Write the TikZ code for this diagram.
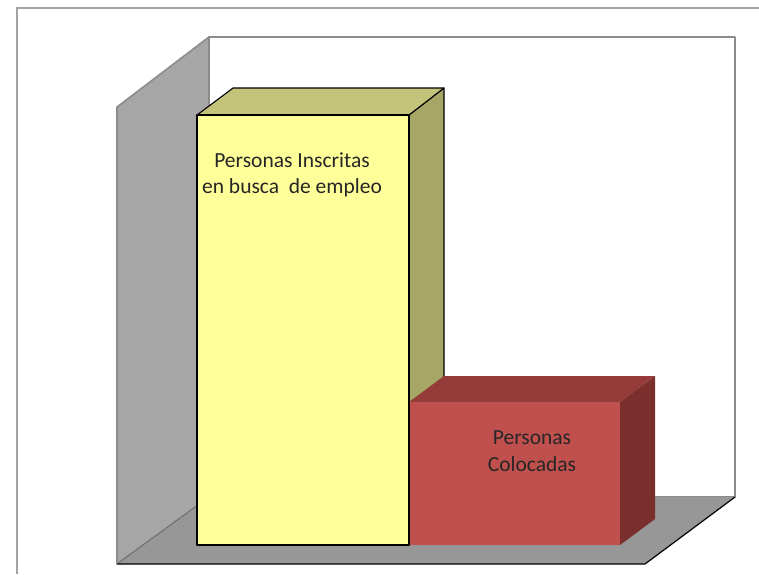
\documentclass[tikz,border=0pt]{standalone}
\usepackage{fontspec}
\setmainfont{Carlito}
\definecolor{wallgray}{HTML}{A6A6A6}
\definecolor{floorgray}{HTML}{979797}
\definecolor{edgegray}{HTML}{8C8C8C}
\definecolor{yfront}{HTML}{FFFF99}
\definecolor{ytop}{HTML}{C3C37A}
\definecolor{yside}{HTML}{A6A667}
\definecolor{rfront}{HTML}{C0504D}
\definecolor{rtop}{HTML}{953B39}
\definecolor{rside}{HTML}{7A2F2D}
\definecolor{txt}{HTML}{262626}
\tikzset{
  wallline/.style={draw=edgegray, line width=1.6pt, line join=round},
  ybar/.style={draw=black, line width=1.1pt, line join=round},
  lbl/.style={text=txt, font=\fontsize{21.5}{26.5}\selectfont, align=center, inner sep=0pt}
}
\begin{document}
\begin{tikzpicture}[x=1pt,y=-1pt]
\useasboundingbox (0,0) rectangle (759,574);
\fill[white] (0,0) rectangle (759,574);
% outer chart frame
\draw[draw=gray!110!black!80, line width=1.4pt] (17,574) -- (17,8) -- (759,8);
% back wall
\draw[wallline, fill=white] (209,37) rectangle (735,497);
% left wall
\filldraw[wallline, fill=wallgray] (117,564) -- (117,107) -- (209,37) -- (209,497) -- cycle;
% floor
\fill[floorgray] (117,564) -- (645,564) -- (735,497) -- (209,497) -- cycle;
\draw[black, line width=1.2pt] (117,564) -- (645,564) -- (735,497);
\draw[edgegray!70!black, line width=0.6pt] (117,564) -- (209,497);
% yellow bar
\filldraw[ybar, fill=yside] (409,115) -- (444,88) -- (444,519) -- (409,545) -- cycle;
\filldraw[ybar, fill=ytop] (197,115) -- (233,88) -- (444,88) -- (409,115) -- cycle;
\filldraw[ybar, fill=yfront] (197,115) rectangle (409,545);
% red bar
\fill[rtop] (409,402) -- (444,376) -- (655,376) -- (620,402) -- cycle;
\fill[rside] (620,402) -- (655,376) -- (655,519) -- (620,545) -- cycle;
\fill[rfront] (409,402) rectangle (620,545);
\draw[black, line width=1.1pt] (409,402) -- (409,545);
% labels
\node[lbl] (inscritas) at (292,175) {Personas Inscritas\\en busca\ \ de empleo};
\node[lbl] (colocadas) at (532,451) {Personas\\Colocadas};
\end{tikzpicture}
\end{document}
